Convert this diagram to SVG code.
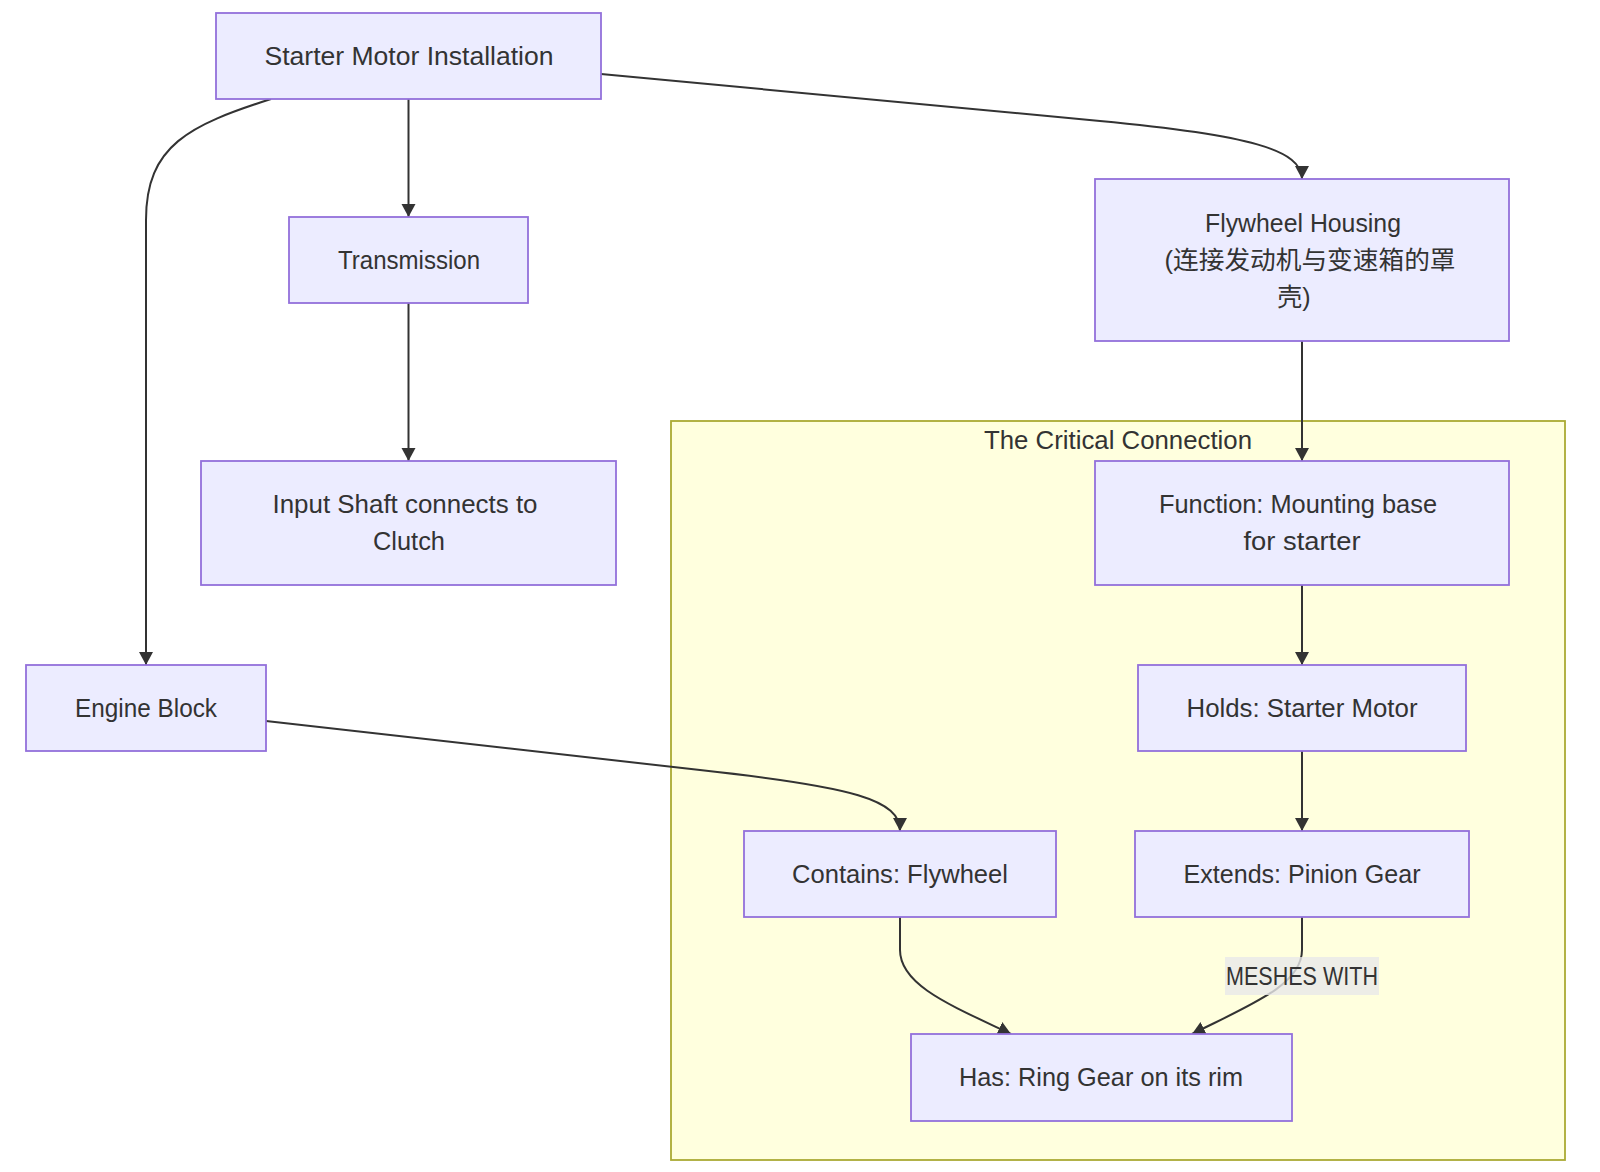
<svg xmlns="http://www.w3.org/2000/svg" width="1600" height="1172" viewBox="0 0 1600 1172">
<defs>
<style>
.node rect{fill:#ECECFF;stroke:#9370DB;stroke-width:1.8}
.cluster rect{fill:#ffffde;stroke:#aaaa33;stroke-width:1.8}
text{font-family:"Liberation Sans","Noto Sans CJK SC",sans-serif;font-size:25px;fill:#333333;text-anchor:middle;dominant-baseline:central}
.edge{fill:none;stroke:#333333;stroke-width:2}
.lbl{fill:#e8e8e8;opacity:0.8}
</style>
<marker id="arrow" markerUnits="userSpaceOnUse" markerWidth="16" markerHeight="16" refX="13" refY="7" orient="auto">
<path d="M0,0 L13,7 L0,14 z" fill="#333333"/>
</marker>
</defs>
<rect width="1600" height="1172" fill="#ffffff"/>
<g id="cluster-critical" class="cluster">
<rect x="671" y="421" width="894" height="739"/>
<text x="1118" y="440" textLength="268" lengthAdjust="spacingAndGlyphs">The Critical Connection</text>
</g>
<g id="edges">
<path class="edge" d="M408.5,99 L408.5,217" marker-end="url(#arrow)"/>
<path class="edge" d="M408.5,303 L408.5,461" marker-end="url(#arrow)"/>
<path class="edge" d="M271,99 C190,125 146,145 146,220 L146,665" marker-end="url(#arrow)"/>
<path class="edge" d="M601,74 L1100,121 C1250,135 1302,150 1302,179" marker-end="url(#arrow)"/>
<path class="edge" d="M1302,341 L1302,461" marker-end="url(#arrow)"/>
<path class="edge" d="M1302,585 L1302,665" marker-end="url(#arrow)"/>
<path class="edge" d="M1302,751 L1302,831" marker-end="url(#arrow)"/>
<path class="edge" d="M266,721 L700,770 C855,787 900,800 900,831" marker-end="url(#arrow)"/>
<path class="edge" d="M900,917 L900,950 C900,985 950,1005 1011,1034" marker-end="url(#arrow)"/>
<path class="edge" d="M1302,917 L1302,950 C1302,985 1250,1005 1192,1034" marker-end="url(#arrow)"/>
<g id="edge-label-meshes">
<rect class="lbl" x="1225" y="957" width="154" height="38"/>
<text x="1302" y="976" textLength="152" lengthAdjust="spacingAndGlyphs">MESHES WITH</text>
</g>
</g>
<g id="node-starter" class="node">
<rect x="216" y="13" width="385" height="86"/>
<text x="409" y="56" textLength="289" lengthAdjust="spacingAndGlyphs">Starter Motor Installation</text>
</g>
<g id="node-transmission" class="node">
<rect x="289" y="217" width="239" height="86"/>
<text x="409" y="260" textLength="142" lengthAdjust="spacingAndGlyphs">Transmission</text>
</g>
<g id="node-input" class="node">
<rect x="201" y="461" width="415" height="124"/>
<text x="405" y="504" textLength="265" lengthAdjust="spacingAndGlyphs">Input Shaft connects to</text>
<text x="409" y="541" textLength="72" lengthAdjust="spacingAndGlyphs">Clutch</text>
</g>
<g id="node-engine" class="node">
<rect x="26" y="665" width="240" height="86"/>
<text x="146" y="708" textLength="142" lengthAdjust="spacingAndGlyphs">Engine Block</text>
</g>
<g id="node-housing" class="node">
<rect x="1095" y="179" width="414" height="162"/>
<text x="1303" y="223" textLength="196" lengthAdjust="spacingAndGlyphs">Flywheel Housing</text>
<text x="1310" y="260" textLength="291" lengthAdjust="spacingAndGlyphs">(连接发动机与变速箱的罩</text>
<text x="1294" y="297">壳)</text>
</g>
<g id="node-function" class="node">
<rect x="1095" y="461" width="414" height="124"/>
<text x="1298" y="504" textLength="278" lengthAdjust="spacingAndGlyphs">Function: Mounting base</text>
<text x="1302" y="541" textLength="117" lengthAdjust="spacingAndGlyphs">for starter</text>
</g>
<g id="node-holds" class="node">
<rect x="1138" y="665" width="328" height="86"/>
<text x="1302" y="708" textLength="231" lengthAdjust="spacingAndGlyphs">Holds: Starter Motor</text>
</g>
<g id="node-contains" class="node">
<rect x="744" y="831" width="312" height="86"/>
<text x="900" y="874" textLength="216" lengthAdjust="spacingAndGlyphs">Contains: Flywheel</text>
</g>
<g id="node-extends" class="node">
<rect x="1135" y="831" width="334" height="86"/>
<text x="1302" y="874" textLength="237" lengthAdjust="spacingAndGlyphs">Extends: Pinion Gear</text>
</g>
<g id="node-ring" class="node">
<rect x="911" y="1034" width="381" height="87"/>
<text x="1101" y="1077" textLength="284" lengthAdjust="spacingAndGlyphs">Has: Ring Gear on its rim</text>
</g>
</svg>
